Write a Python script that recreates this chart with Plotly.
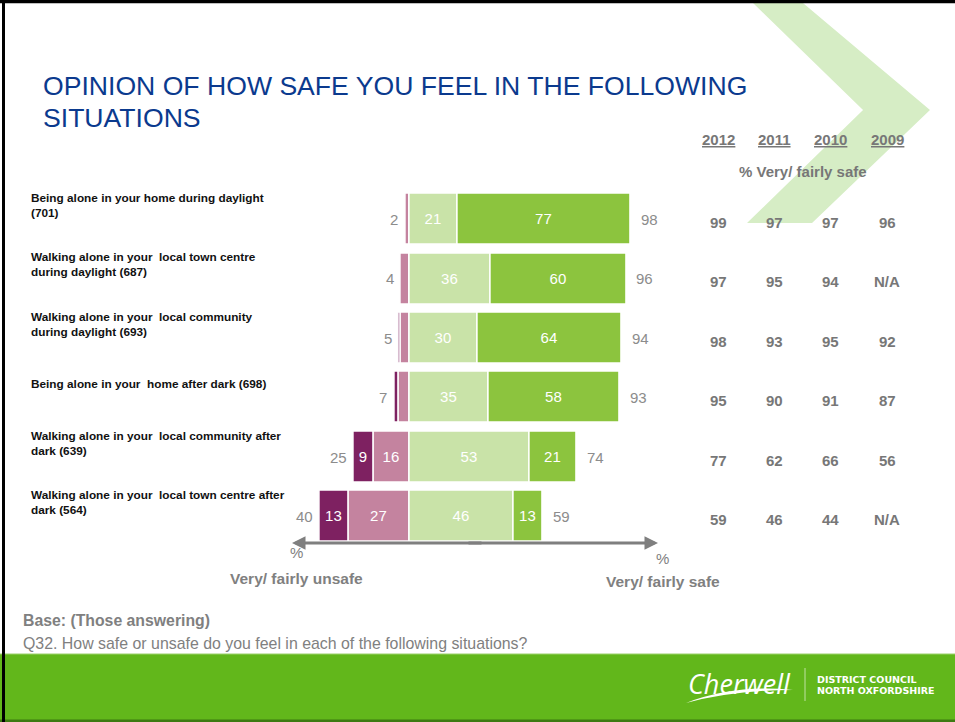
import plotly.graph_objects as go

# ---- data -------------------------------------------------------------
situations = [
    "Being alone in your home during daylight<br>(701)",
    "Walking alone in your  local town centre<br>during daylight (687)",
    "Walking alone in your  local community<br>during daylight (693)",
    "Being alone in your  home after dark (698)",
    "Walking alone in your  local community after<br>dark (639)",
    "Walking alone in your  local town centre after<br>dark (564)",
]
very_unsafe = [0, 0, 1, 2, 9, 13]
fairly_unsafe = [2, 4, 4, 5, 16, 27]
fairly_safe = [21, 36, 30, 35, 53, 46]
very_safe = [77, 60, 64, 58, 21, 13]
net_unsafe = [2, 4, 5, 7, 25, 40]
net_safe = [98, 96, 94, 93, 74, 59]

years = ["2012", "2011", "2010", "2009"]
trend = [
    ["99", "97", "97", "96"],
    ["97", "95", "94", "N/A"],
    ["98", "93", "95", "92"],
    ["95", "90", "91", "87"],
    ["77", "62", "66", "56"],
    ["59", "46", "44", "N/A"],
]

# ---- page geometry (pixels) ------------------------------------------
W, H = 955, 722
X_ZERO, PX_PER_UNIT = 410, 2.255
X_RANGE = [-60, 120]
PLOT_TOP, ROW_STEP = 189.8, 59.4
FONT = "Liberation Sans, Arial, sans-serif"
GREY = "#808080"
TABLE_GREY = "#777777"

C_VU = "#7E2161"
C_FU = "#C4839F"
C_FS = "#C9E3A8"
C_VS = "#8CC43E"


def px(x):
    return x / W


def py(y):
    return 1 - y / H


fig = go.Figure()
ann = []
shapes = []


def note(x, y, text, size, color, xanchor="center", yanchor="middle",
         family=FONT, **kw):
    """Text placed at a pixel position on the page."""
    ann.append(dict(x=px(x), y=py(y), xref="paper", yref="paper", text=text,
                    showarrow=False, xanchor=xanchor, yanchor=yanchor,
                    font=dict(size=size, color=color, family=family), **kw))


def labels(vals, min_show):
    return [str(v) if v >= min_show else "" for v in vals]


def add_bar(vals, sign, color, name, min_show):
    fig.add_trace(go.Bar(
        y=situations, x=[sign * v for v in vals], orientation="h", name=name,
        marker=dict(color=color, line=dict(color="white", width=1.5)),
        width=0.86,
        text=labels(vals, min_show), textposition="inside",
        insidetextanchor="middle", textangle=0,
        textfont=dict(color="white", size=15, family=FONT),
        hoverinfo="skip", showlegend=False,
    ))


# unsafe stacks leftwards from zero (fairly first, very outermost)
add_bar(fairly_unsafe, -1, C_FU, "Fairly unsafe", 9)
add_bar(very_unsafe, -1, C_VU, "Very unsafe", 9)
add_bar(fairly_safe, 1, C_FS, "Fairly safe", 9)
add_bar(very_safe, 1, C_VS, "Very safe", 9)

# net totals either side of the bars
for s, nu, ns in zip(situations, net_unsafe, net_safe):
    ann.append(dict(x=-nu, y=s, xref="x", yref="y", text=str(nu), showarrow=False,
                    xanchor="right", yanchor="middle", xshift=-5,
                    font=dict(size=15, color="#8C8C8C", family=FONT)))
    ann.append(dict(x=ns, y=s, xref="x", yref="y", text=str(ns), showarrow=False,
                    xanchor="left", yanchor="middle", xshift=8,
                    font=dict(size=15, color="#8C8C8C", family=FONT)))

# situation labels on the left
for s in situations:
    ann.append(dict(x=px(29), y=s, xref="paper", yref="y", text="<b>%s</b>" % s,
                    showarrow=False, xanchor="left", yanchor="middle", align="left",
                    yshift=14, font=dict(size=11.8, color="#111111", family=FONT)))

# trend table
col_x = [718, 774, 830, 887]
for yr, cx in zip(years, col_x):
    note(cx, 139, "<b><span style='text-decoration:underline'>%s</span></b>" % yr,
         15, TABLE_GREY)
note(803, 172, "<b>% Very/ fairly safe</b>", 15, TABLE_GREY)
for s, row in zip(situations, trend):
    for cx, v in zip(col_x, row):
        ann.append(dict(x=px(cx), y=s, xref="paper", yref="y", text="<b>%s</b>" % v,
                        showarrow=False, xanchor="center", yanchor="middle", yshift=-3,
                        font=dict(size=15, color=TABLE_GREY, family=FONT)))

# double-headed axis arrow beneath the bars
arrow_y = py(543)
mid = 475
for end in (292, 658):
    tail = mid + (8 if end < mid else -8)
    ann.append(dict(x=px(end), y=arrow_y, xref="paper", yref="paper", text="",
                    showarrow=True, arrowhead=2, arrowsize=0.9, arrowwidth=3,
                    arrowcolor="#7F7F7F", ax=tail - end, ay=0, standoff=0))
note(296, 552, "%", 15, GREY)
note(662, 558, "%", 15, GREY)
note(296, 578, "<b>Very/ fairly unsafe</b>", 15.5, GREY)
note(663, 581, "<b>Very/ fairly safe</b>", 15.5, GREY)

# title
note(41, 86, "OPINION OF HOW SAFE YOU FEEL IN THE FOLLOWING", 26.6, "#0B3A8E",
     xanchor="left")
note(41, 118, "SITUATIONS", 26.6, "#0B3A8E", xanchor="left")

# base and question notes
note(21, 620, "<b>Base: (Those answering)</b>", 15.8, GREY, xanchor="left")
note(21, 643, "Q32. How safe or unsafe do you feel in each of the following situations?",
     15.9, GREY, xanchor="left")

# footer branding
note(739, 683, "<i>Cherwell</i>", 27, "white", family="Open Sans, sans-serif")
note(815, 679, "<b>DISTRICT COUNCIL</b>", 9.5, "white", xanchor="left",
     family="DejaVu Sans, sans-serif")
note(815, 690, "<b>NORTH OXFORDSHIRE</b>", 9.5, "white", xanchor="left",
     family="DejaVu Sans, sans-serif")

# decorative chevron in the top-right corner
chev = [(753, 3), (803, 3), (930, 110), (812, 223), (747, 223), (863, 110)]
path = "M " + " L ".join("%.4f,%.4f" % (px(a), py(b)) for a, b in chev) + " Z"
shapes.append(dict(type="path", path=path, xref="paper", yref="paper",
                   fillcolor="#D6EDC5", line=dict(width=0), layer="below"))

# green footer band
shapes.append(dict(type="rect", x0=0, x1=1, y0=py(722), y1=py(654), xref="paper",
                   yref="paper", fillcolor="#62B71B", line=dict(width=0), layer="below"))
shapes.append(dict(type="rect", x0=0, x1=1, y0=py(722), y1=py(719.5), xref="paper",
                   yref="paper", fillcolor="#3C7A12", line=dict(width=0), layer="below"))
shapes.append(dict(type="line", x0=0, x1=1, y0=py(654), y1=py(654), xref="paper",
                   yref="paper", line=dict(color="#9BD16A", width=1)))
# swoosh under the logo and divider
swoosh = "M %.4f,%.4f Q %.4f,%.4f %.4f,%.4f Q %.4f,%.4f %.4f,%.4f Z" % (
    px(686), py(703), px(735), py(684), px(793), py(690),
    px(735), py(690), px(686), py(703))
shapes.append(dict(type="path", path=swoosh, xref="paper", yref="paper",
                   fillcolor="white", line=dict(width=0)))
shapes.append(dict(type="line", x0=px(805), x1=px(805), y0=py(668), y1=py(701),
                   xref="paper", yref="paper", line=dict(color="rgba(255,255,255,0.6)", width=1)))

# slide frame: top and left rules
shapes.append(dict(type="line", x0=0, x1=1, y0=py(1.5), y1=py(1.5), xref="paper",
                   yref="paper", line=dict(color="black", width=3.5)))
shapes.append(dict(type="line", x0=px(3.5), x1=px(3.5), y0=0, y1=1, xref="paper",
                   yref="paper", line=dict(color="black", width=3)))

plot_bottom = PLOT_TOP + ROW_STEP * len(situations)
fig.update_layout(
    width=W, height=H, margin=dict(l=0, r=0, t=0, b=0),
    paper_bgcolor="white", plot_bgcolor="rgba(0,0,0,0)",
    barmode="relative", bargap=0,
    xaxis=dict(range=X_RANGE, visible=False, fixedrange=True,
               domain=[px(X_ZERO + X_RANGE[0] * PX_PER_UNIT),
                       px(X_ZERO + X_RANGE[1] * PX_PER_UNIT)]),
    yaxis=dict(type="category", categoryorder="array", categoryarray=situations,
               range=[len(situations) - 0.5, -0.5], visible=False, fixedrange=True,
               domain=[py(plot_bottom), py(PLOT_TOP)]),
    annotations=ann, shapes=shapes,
    uniformtext=dict(minsize=8, mode="show"),
)

fig.write_html("out.html")
